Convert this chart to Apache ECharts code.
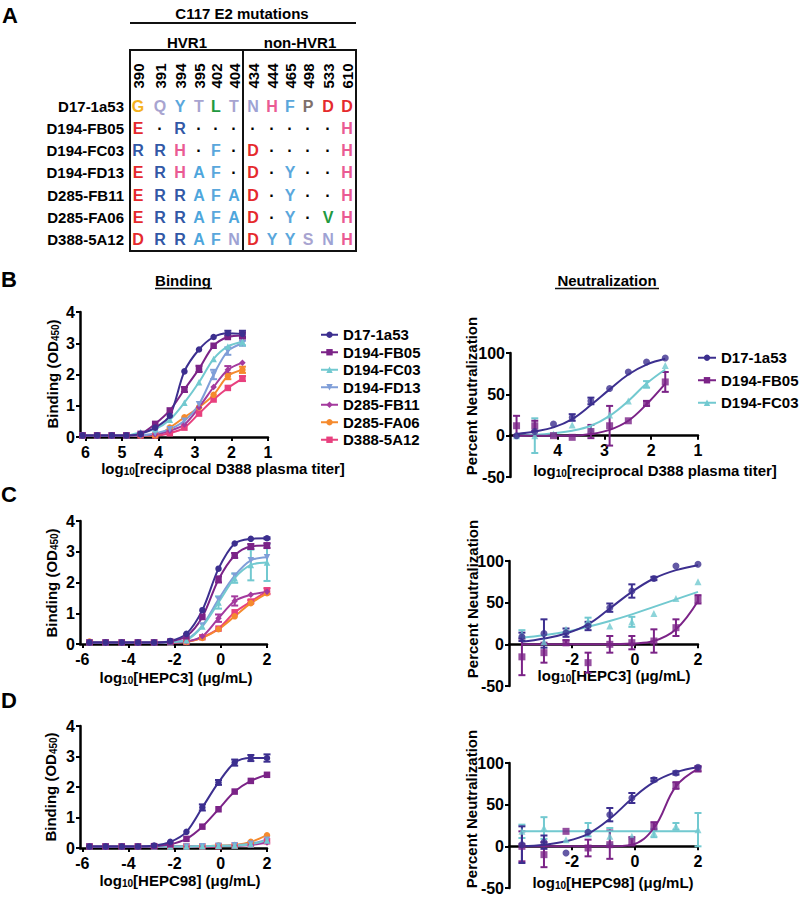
<!DOCTYPE html>
<html>
<head>
<meta charset="utf-8">
<script src="https://cdn.jsdelivr.net/npm/echarts@6/dist/echarts.min.js"></script>
<style>
html, body { margin: 0; padding: 0; background: #fff; }
#main { width: 800px; height: 900px; }
</style>
</head>
<body>
<div id="main"></div>
<script>
var FONT = 'Liberation Sans, Arial, Helvetica, sans-serif';

// A: sequence table
var strains = ['D17-1a53', 'D194-FB05', 'D194-FC03', 'D194-FD13', 'D285-FB11', 'D285-FA06', 'D388-5A12'];
var positions = ['390', '391', '394', '395', '402', '404', '434', '444', '465', '498', '533', '610'];
var sequences = [
    'GQYTLTNHFPDD',
    'E.R........H',
    'RRH.F.D....H',
    'ERHAF.D.Y..H',
    'ERRAFAD.Y..H',
    'ERRAFAD.Y.VH',
    'DRRAFNDYYSNH'
];

// x values (log10)
var xTiterBind = [6.08, 5.68, 5.28, 4.88, 4.49, 4.09, 3.69, 3.29, 2.89, 2.49, 2.10, 1.70];
var xTiterNeut = [4.88, 4.49, 4.09, 3.69, 3.29, 2.89, 2.49, 2.10, 1.70];
var xConcBind = [-5.69, -4.99, -4.29, -3.59, -2.89, -2.19, -1.49, -0.80, -0.10, 0.60, 1.30, 2.00];
var xConcNeut = [-3.59, -2.89, -2.19, -1.49, -0.80, -0.10, 0.60, 1.30, 2.00];

// tick labels
var ticksTiterBind = [6, 5, 4, 3, 2, 1];
var ticksTiterNeut = [4, 3, 2, 1];
var ticksConcBind = [-6, -4, -2, 0, 2];
var ticksConcNeut = [-2, 0, 2];

// B binding (OD450)
var bindB = [
    [0.05, 0.05, 0.05, 0.05, 0.10, 0.30, 0.68, 2.10, 2.80, 3.20, 3.32, 3.30],
    [0.05, 0.05, 0.05, 0.05, 0.10, 0.42, 0.85, 1.52, 2.18, 2.92, 3.20, 3.25],
    [0.05, 0.05, 0.05, 0.05, 0.15, 0.25, 0.55, 1.10, 1.75, 2.50, 2.90, 3.05],
    [0.05, 0.05, 0.05, 0.05, 0.05, 0.12, 0.25, 0.52, 1.05, 2.00, 2.75, 3.00],
    [0.05, 0.05, 0.05, 0.05, 0.05, 0.08, 0.20, 0.40, 0.95, 1.60, 2.15, 2.38],
    [0.05, 0.05, 0.05, 0.05, 0.05, 0.05, 0.30, 0.63, 0.95, 1.35, 1.95, 2.15],
    [0.05, 0.05, 0.05, 0.05, 0.05, 0.05, 0.12, 0.30, 0.75, 1.20, 1.57, 1.87]
];
var bindBErr = [
    [0, 0, 0, 0, 0, 0, 0, 0, 0, 0, 0.08, 0.10],
    [0, 0, 0, 0, 0, 0, 0, 0.08, 0.10, 0, 0, 0.10],
    [0, 0, 0, 0, 0, 0, 0, 0, 0, 0, 0, 0.12],
    [0, 0, 0, 0, 0, 0, 0, 0, 0, 0.15, 0.12, 0.08],
    [0, 0, 0, 0, 0, 0, 0, 0, 0, 0, 0.12, 0],
    [0, 0, 0, 0, 0, 0, 0, 0, 0, 0, 0.10, 0.10],
    [0, 0, 0, 0, 0, 0, 0, 0, 0, 0, 0, 0.08]
];

// B neutralization (%)
var neutB = [
    [0, 5, 14, 22, 42, 57, 77, 89, 94],
    [12, 12, 0, -2, 5, 12, 18, 39, 65],
    [0, 0, 2, 13, 8, 25, 42, 62, 85]
];
var neutBFit = [
    [2, 5, 10, 20, 37, 56, 74, 86, 93],
    [0, 0, 0, 0, 2, 7, 18, 38, 63],
    [0, 1, 3, 6, 12, 24, 42, 63, 80]
];
var neutBErr = [
    [0, 0, 0, 4, 4, 0, 0, 0, 0],
    [12, 6, 0, 0, 8, 24, 0, 3, 12],
    [0, 21, 0, 0, 0, 0, 0, 4, 0]
];

// C binding (OD450)
var bindC = [
    [0.05, 0.05, 0.05, 0.05, 0.05, 0.10, 0.33, 1.10, 2.45, 3.27, 3.42, 3.44],
    [0.05, 0.05, 0.05, 0.05, 0.05, 0.08, 0.25, 0.88, 2.10, 2.88, 3.17, 3.20],
    [0.05, 0.05, 0.05, 0.05, 0.05, 0.06, 0.12, 0.57, 1.35, 2.14, 2.57, 2.65],
    [0.05, 0.05, 0.05, 0.05, 0.05, 0.06, 0.15, 0.60, 1.45, 2.22, 2.72, 2.82],
    [0.05, 0.05, 0.05, 0.05, 0.05, 0.05, 0.08, 0.25, 0.84, 1.40, 1.60, 1.70],
    [0.08, 0.05, 0.05, 0.05, 0.05, 0.05, 0.07, 0.20, 0.48, 0.90, 1.33, 1.65],
    [0.05, 0.05, 0.05, 0.05, 0.05, 0.05, 0.07, 0.22, 0.50, 1.03, 1.38, 1.72]
];
var bindCErr = [
    [0, 0, 0, 0, 0, 0, 0, 0, 0, 0, 0, 0.03],
    [0, 0, 0, 0, 0, 0, 0, 0, 0.10, 0.08, 0.08, 0.08],
    [0, 0, 0, 0, 0, 0, 0, 0, 0.20, 0.15, 0.50, 0.60],
    [0, 0, 0, 0, 0, 0, 0, 0, 0, 0, 0, 0],
    [0, 0, 0, 0, 0, 0, 0, 0, 0.12, 0.15, 0, 0],
    [0, 0, 0, 0, 0, 0, 0, 0, 0, 0, 0, 0],
    [0, 0, 0, 0, 0, 0, 0, 0, 0, 0, 0.05, 0.10]
];

// C neutralization (%)
var neutC = [
    [9, 13, 14, 22, 44, 64, 79, 94, 96],
    [-15, -10, 2, -22, 0, 2, 4, 20, 54],
    [12, 3, 18, 28, 22, 27, 37, 55, 75]
];
var neutCFit = [
    [3, 7, 13, 24, 43, 63, 79, 89, 95],
    [0, 0, 0, 0, 0, 1, 4, 18, 52],
    [8, 11, 15, 21, 28, 36, 45, 54, 63]
];
var neutCErr = [
    [5, 17, 5, 5, 5, 8, 2, 0, 0],
    [22, 12, 3, 12, 10, 8, 14, 10, 5],
    [5, 0, 0, 4, 0, 6, 0, 0, 0]
];

// D binding (OD450)
var bindD = [
    [0.05, 0.05, 0.05, 0.05, 0.08, 0.20, 0.53, 1.33, 2.15, 2.80, 2.95, 2.95],
    [0.05, 0.05, 0.05, 0.05, 0.06, 0.12, 0.30, 0.70, 1.27, 1.85, 2.20, 2.40],
    [0.05, 0.05, 0.05, 0.05, 0.05, 0.05, 0.05, 0.06, 0.07, 0.08, 0.12, 0.25],
    [0.05, 0.05, 0.05, 0.05, 0.05, 0.05, 0.05, 0.06, 0.07, 0.09, 0.14, 0.27],
    [0.05, 0.05, 0.05, 0.05, 0.05, 0.05, 0.05, 0.05, 0.06, 0.07, 0.10, 0.18],
    [0.05, 0.05, 0.05, 0.05, 0.05, 0.05, 0.05, 0.06, 0.08, 0.10, 0.20, 0.42],
    [0.05, 0.05, 0.05, 0.05, 0.05, 0.05, 0.05, 0.05, 0.06, 0.08, 0.12, 0.22]
];
var bindDErr = [
    [0, 0, 0, 0, 0, 0, 0, 0.10, 0.08, 0.10, 0.10, 0.12],
    [0, 0, 0, 0, 0, 0, 0, 0, 0, 0, 0, 0],
    [0, 0, 0, 0, 0, 0, 0, 0, 0, 0, 0, 0],
    [0, 0, 0, 0, 0, 0, 0, 0, 0, 0, 0, 0],
    [0, 0, 0, 0, 0, 0, 0, 0, 0, 0, 0, 0],
    [0, 0, 0, 0, 0, 0, 0, 0, 0, 0, 0, 0],
    [0, 0, 0, 0, 0, 0, 0, 0, 0, 0, 0, 0]
];

// D neutralization (%)
var neutD = [
    [2, 5, -8, 17, 38, 58, 80, 88, 95],
    [0, -10, 18, -2, 2, 6, 24, 73, 93],
    [18, 22, 8, 20, 12, 12, 16, 24, 20]
];
var neutDFit = [
    [0, 2, 6, 15, 33, 57, 77, 89, 95],
    [0, 0, 0, 0, 0, 2, 22, 72, 93],
    [18, 18, 18, 18, 18, 18, 18, 18, 18]
];
var neutDErr = [
    [22, 8, 0, 0, 8, 6, 2, 2, 0],
    [18, 15, 0, 10, 17, 5, 5, 4, 3],
    [8, 13, 0, 8, 10, 0, 5, 4, 20]
];

// styles
var colors = ['#3c2f8f', '#7b2387', '#72c9d0', '#7f9ed8', '#a43a9e', '#f58a2d', '#e8407e'];
var symbols = ['circle', 'rect', 'triangle', 'path://M0,0L10,0L5,9Z', 'diamond', 'circle', 'rect'];
var letterColor = {
    G: '#f5b21e', Q: '#a8a4d0', Y: '#5aa7dc', T: '#a8a4d0', L: '#22993f', N: '#9ea2d4',
    H: '#ea5b93', F: '#5aa7dc', P: '#7e6f6a', D: '#e52a2d', E: '#e52a2d', R: '#3258a6',
    A: '#4ea6dc', V: '#22993f', S: '#a8a4d0'
};

var xTitleTiter = '{n|log}{s|10}{n|[reciprocal D388 plasma titer]}';
var xTitleC = '{n|log}{s|10}{n|[HEPC3] (\u03bcg/mL)}';
var xTitleD = '{n|log}{s|10}{n|[HEPC98] (\u03bcg/mL)}';
var yTitleBind = '{n|Binding (OD}{s|450}{n|)}';
var yTitleNeut = '{n|Percent Neutralization}';

var panels = [
    { grid: { left: 80, top: 312, width: 188, height: 125 }, xMin: 1, xMax: 6.15, inverse: true, xTicks: ticksTiterBind,
      kind: 'bind', xs: xTiterBind, vals: bindB, errs: bindBErr,
      xTitle: [xTitleTiter, 223, 468], yTitle: [yTitleBind, 52, 374] },
    { grid: { left: 510, top: 353, width: 188, height: 124 }, xMin: 1, xMax: 5.02, inverse: true, xTicks: ticksTiterNeut,
      kind: 'neut', xs: xTiterNeut, vals: neutB, fits: neutBFit, errs: neutBErr,
      xTitle: [xTitleTiter, 655, 470], yTitle: [yTitleNeut, 471, 396] },
    { grid: { left: 80, top: 521, width: 187, height: 123 }, xMin: -6.1, xMax: 2, xTicks: ticksConcBind,
      kind: 'bind', xs: xConcBind, vals: bindC, errs: bindCErr,
      xTitle: [xTitleC, 176, 677], yTitle: [yTitleBind, 51, 583] },
    { grid: { left: 509, top: 561, width: 189, height: 125 }, xMin: -4, xMax: 2, xTicks: ticksConcNeut,
      kind: 'neut', xs: xConcNeut, vals: neutC, fits: neutCFit, errs: neutCErr,
      xTitle: [xTitleC, 614, 675], yTitle: [yTitleNeut, 472, 599] },
    { grid: { left: 80, top: 726, width: 187, height: 122 }, xMin: -6.1, xMax: 2, xTicks: ticksConcBind,
      kind: 'bind', xs: xConcBind, vals: bindD, errs: bindDErr,
      xTitle: [xTitleD, 180, 880], yTitle: [yTitleBind, 50, 787] },
    { grid: { left: 509, top: 763, width: 189, height: 125 }, xMin: -4, xMax: 2, xTicks: ticksConcNeut,
      kind: 'neut', xs: xConcNeut, vals: neutD, fits: neutDFit, errs: neutDErr,
      xTitle: [xTitleD, 613, 882], yTitle: [yTitleNeut, 471, 809] }
];

function pairs(xs, ys) {
    return xs.map(function (x, i) { return [x, ys[i]]; });
}

function errSeries(xs, ys, es, g, color) {
    var d = [];
    for (var i = 0; i < xs.length; i++) {
        if (es[i] > 0) d.push([xs[i], ys[i] - es[i], ys[i] + es[i]]);
    }
    return {
        type: 'custom',
        xAxisIndex: g,
        yAxisIndex: g,
        data: d,
        z: 3,
        silent: true,
        encode: { x: 0, y: [1, 2] },
        itemStyle: { color: color },
        renderItem: function (params, api) {
            var top = api.coord([api.value(0), api.value(2)]);
            var bot = api.coord([api.value(0), api.value(1)]);
            var st = { stroke: color, lineWidth: 2 };
            return {
                type: 'group',
                children: [
                    { type: 'line', shape: { x1: top[0], y1: top[1], x2: bot[0], y2: bot[1] }, style: st },
                    { type: 'line', shape: { x1: top[0] - 3.5, y1: top[1], x2: top[0] + 3.5, y2: top[1] }, style: st },
                    { type: 'line', shape: { x1: bot[0] - 3.5, y1: bot[1], x2: bot[0] + 3.5, y2: bot[1] }, style: st }
                ]
            };
        }
    };
}

// subscripts: smaller token pushed to the bottom of the line box
var richSub = {
    n: { fontSize: 15, fontWeight: 'bold', fontFamily: FONT, fill: '#000', lineHeight: 16 },
    s: { fontSize: 10, fontWeight: 'bold', fontFamily: FONT, fill: '#000', lineHeight: 8, verticalAlign: 'bottom' }
};

var grids = [], xAxes = [], yAxes = [], series = [], graphics = [];

panels.forEach(function (p, g) {
    var gr = p.grid;
    var bind = p.kind === 'bind';
    gr.outerBoundsMode = 'none';
    grids.push(gr);
    // neutralization x axis sits at y = 0 (one third up the -50..100 range)
    xAxes.push({
        type: 'value', gridIndex: g, min: p.xMin, max: p.xMax, inverse: !!p.inverse,
        position: 'bottom', offset: bind ? 0 : -gr.height / 3,
        axisLine: { onZero: false, lineStyle: { color: '#000', width: 2.5 } },
        axisTick: { customValues: p.xTicks, length: 4, lineStyle: { color: '#000', width: 2 } },
        axisLabel: { customValues: p.xTicks, color: '#000', fontSize: 16, fontWeight: 'bold', fontFamily: FONT, margin: 7 },
        splitLine: { show: false }
    });
    yAxes.push({
        type: 'value', gridIndex: g,
        min: bind ? 0 : -50, max: bind ? 4 : 100, interval: bind ? 1 : 50,
        axisLine: { show: true, onZero: false, lineStyle: { color: '#000', width: 2.5 } },
        axisTick: { show: true, length: 4, lineStyle: { color: '#000', width: 2 } },
        axisLabel: { color: '#000', fontSize: 16, fontWeight: 'bold', fontFamily: FONT, margin: 5 },
        splitLine: { show: false }
    });

    var n = p.vals.length;
    for (var s = n - 1; s >= 0; s--) {
        series.push(errSeries(p.xs, p.vals[s], p.errs[s], g, colors[s]));
        if (bind) {
            series.push({
                name: strains[s], type: 'line', xAxisIndex: g, yAxisIndex: g,
                data: pairs(p.xs, p.vals[s]), smooth: 0.3,
                symbol: symbols[s], symbolSize: 6.5, showSymbol: true, z: 4,
                lineStyle: { width: 2, color: colors[s] },
                itemStyle: { color: colors[s] }
            });
        } else {
            series.push({
                name: strains[s], type: 'line', xAxisIndex: g, yAxisIndex: g,
                data: pairs(p.xs, p.fits[s]), smooth: 0.4,
                symbol: 'none', showSymbol: false, z: 4,
                lineStyle: { width: 2, color: colors[s] },
                itemStyle: { color: colors[s] }
            });
            series.push({
                name: strains[s], type: 'scatter', xAxisIndex: g, yAxisIndex: g,
                data: pairs(p.xs, p.vals[s]),
                symbol: symbols[s], symbolSize: 7, z: 4,
                itemStyle: { color: colors[s] }
            });
        }
    }

    graphics.push({ type: 'text', x: p.xTitle[1], y: p.xTitle[2],
        style: { text: p.xTitle[0], rich: richSub, align: 'center', verticalAlign: 'middle' } });
    graphics.push({ type: 'text', x: p.yTitle[1], y: p.yTitle[2], rotation: Math.PI / 2,
        style: { text: p.yTitle[0], rich: richSub, align: 'center', verticalAlign: 'middle' } });
});

function addText(x, y, text, size, color, align, rot) {
    graphics.push({
        type: 'text', x: x, y: y, rotation: rot || 0,
        style: { text: text, fontSize: size, fontWeight: 'bold', fontFamily: FONT, fill: color || '#000',
                 align: align || 'center', verticalAlign: 'middle' }
    });
}
function addLine(x1, y1, x2, y2, w) {
    graphics.push({ type: 'line', shape: { x1: x1, y1: y1, x2: x2, y2: y2 },
        style: { stroke: '#111', lineWidth: w || 2 } });
}

// panel letters + headings
addText(10, 15, 'A', 22);
addText(9, 279, 'B', 22);
addText(9, 494, 'C', 22);
addText(9, 700, 'D', 22);
addText(183, 280, 'Binding', 15);
addLine(155, 288.5, 212, 288.5, 1.5);
addText(607, 280, 'Neutralization', 15);
addLine(555, 288.5, 659, 288.5, 1.5);

// table A
var colX = [138, 160, 180, 199, 216, 234, 253, 272, 290, 308, 328, 347];
addText(242, 13, 'C117 E2 mutations', 15);
addLine(130, 23, 356, 23, 2);
addText(187, 42, 'HVR1', 15);
addText(300, 42, 'non-HVR1', 15);
graphics.push({ type: 'rect', shape: { x: 130, y: 50, width: 226, height: 201 },
    style: { fill: 'none', stroke: '#111', lineWidth: 2 } });
addLine(243, 50, 243, 251, 2);
positions.forEach(function (pos, j) {
    addText(colX[j], 76, pos, 15, '#000', 'center', Math.PI / 2);
});
strains.forEach(function (name, i) {
    var y = 106 + i * 22.3;
    addText(124, y, name, 15, '#000', 'right');
    for (var j = 0; j < sequences[i].length; j++) {
        var ch = sequences[i].charAt(j);
        if (ch === '.') addText(colX[j], y, '\u00b7', 16, '#000');
        else addText(colX[j], y, ch, 16, letterColor[ch]);
    }
});

var legendText = { fontSize: 15, fontWeight: 'bold', fontFamily: FONT, color: '#000', lineHeight: 17.5 };

var myChart = echarts.init(document.getElementById('main'), null, { renderer: 'svg' });
var option = {
    animation: false,
    backgroundColor: '#fff',
    grid: grids,
    xAxis: xAxes,
    yAxis: yAxes,
    legend: [
        { data: strains, left: 320, top: 326, orient: 'vertical', itemWidth: 17, itemHeight: 8,
          itemGap: 0, padding: 0, selectedMode: false, textStyle: legendText },
        { data: strains.slice(0, 3), left: 697, top: 349, orient: 'vertical', itemWidth: 18, itemHeight: 8,
          itemGap: 5, padding: 0, selectedMode: false, textStyle: legendText }
    ],
    graphic: { elements: graphics },
    series: series
};
myChart.setOption(option);

window.addEventListener('resize', function () {
    myChart.resize();
});
</script>
</body>
</html>
